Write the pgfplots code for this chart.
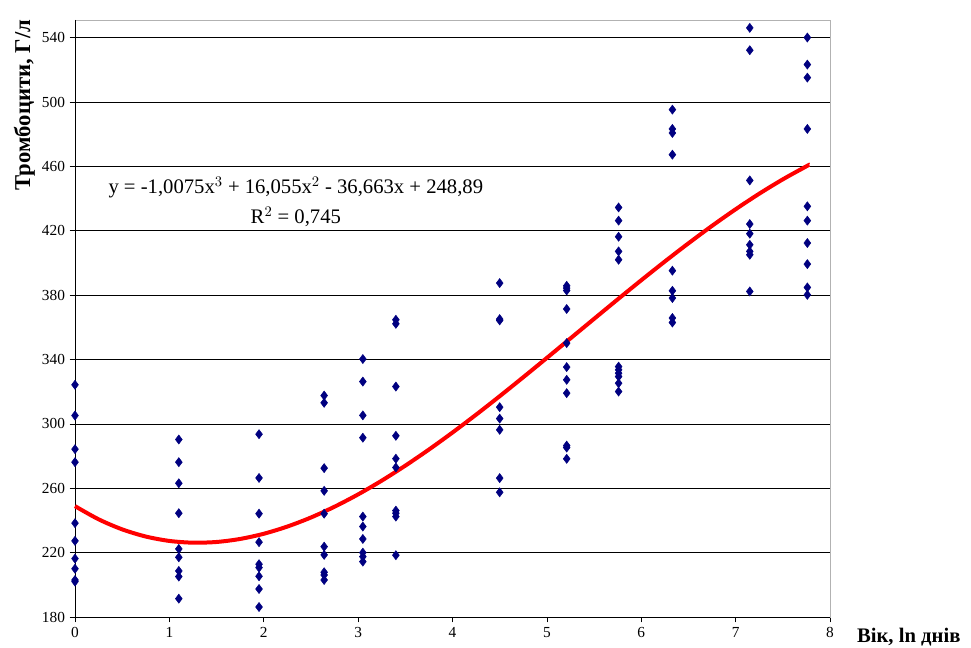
\documentclass[border=0pt]{standalone}
\usepackage{pgfplots}
\pgfplotsset{compat=1.18}
\usepackage{fontspec}
\setmainfont{Liberation Serif}
\definecolor{navy}{RGB}{0,0,128}
\begin{document}
\begin{tikzpicture}
\path[use as bounding box] (-56.25pt,-23.25pt) rectangle (672pt,462.75pt);
\begin{axis}[
  at={(0,0)}, anchor=origin,
  width=566.25pt, height=447.75pt, scale only axis,
  xmin=0, xmax=8, ymin=180, ymax=551,
  xtick={0,1,...,8}, ytick={180,220,...,540},
  ymajorgrids, grid style={black, line width=0.5pt},
  axis line style={draw=gray!60, line width=0.6pt},
  tick pos=left, tick align=outside, major tick length=4pt,
  tick style={black, line width=0.5pt},
  tick label style={font=\fontsize{11.5}{13}\selectfont},
  /pgf/number format/assume math mode=true,
  /pgf/number format/1000 sep={},
  clip=false,
]
\draw[black, line width=0.7pt] (rel axis cs:0,1) -- (rel axis cs:0,0) -- (rel axis cs:1,0);
\addplot[only marks, mark=diamond*, mark size=3.4pt, color=navy] coordinates {
(0,324.3) (0,305.2) (0,284.3) (0,276.2) (0,238.3) (0,227.3) (0,216.3) (0,210.0) (0,203.0) (0,202.0)
(1.10,290.3) (1.10,276.2) (1.10,263.1) (1.10,244.5) (1.10,222.3) (1.10,217.1) (1.10,208.6) (1.10,205.1) (1.10,191.4)
(1.95,293.6) (1.95,266.4) (1.95,244.2) (1.95,226.5) (1.95,212.8) (1.95,210.7) (1.95,205.3) (1.95,197.4) (1.95,186.2)
(2.64,317.6) (2.64,313.1) (2.64,272.5) (2.64,258.4) (2.64,244.2) (2.64,223.7) (2.64,218.6) (2.64,207.8) (2.64,206.1) (2.64,203.0)
(3.05,340.3) (3.05,326.3) (3.05,305.3) (3.05,291.4) (3.05,242.4) (3.05,236.2) (3.05,228.5) (3.05,220.0) (3.05,217.5) (3.05,214.4)
(3.40,364.7) (3.40,362.2) (3.40,323.2) (3.40,292.6) (3.40,278.4) (3.40,272.9) (3.40,246.1) (3.40,244.5) (3.40,242.4) (3.40,218.4)
(4.50,387.5) (4.50,365.1) (4.50,364.3) (4.50,310.4) (4.50,303.3) (4.50,296.3) (4.50,266.3) (4.50,257.5)
(5.21,385.8) (5.21,384.4) (5.21,382.9) (5.21,371.4) (5.21,350.2) (5.21,335.3) (5.21,327.4) (5.21,319.1) (5.21,286.5) (5.21,285.3) (5.21,278.3)
(5.76,434.5) (5.76,426.3) (5.76,416.3) (5.76,407.2) (5.76,402.0) (5.76,335.6) (5.76,333.6) (5.76,331.5) (5.76,329.4) (5.76,325.3) (5.76,320.1)
(6.33,495.3) (6.33,483.3) (6.33,480.8) (6.33,467.3) (6.33,395.2) (6.33,382.7) (6.33,378.2) (6.33,365.8) (6.33,363.0)
(7.15,546.1) (7.15,532.2) (7.15,451.3) (7.15,424.2) (7.15,418.2) (7.15,411.3) (7.15,407.2) (7.15,405.1) (7.15,382.3)
(7.76,540.1) (7.76,523.3) (7.76,515.2) (7.76,483.3) (7.76,435.2) (7.76,426.3) (7.76,412.4) (7.76,399.3) (7.76,384.8) (7.76,380.2)
};
\addplot[red, line width=3pt, smooth] coordinates {
(0,248.89) (0.25,240.71) (0.5,234.45) (0.75,230.00) (1,227.27) (1.25,226.18) (1.5,226.62) (1.75,228.50)
(2,231.72) (2.25,236.20) (2.5,241.83) (2.75,248.53) (3,256.19) (3.25,264.73) (3.5,274.05) (3.75,284.05)
(4,294.64) (4.25,305.72) (4.5,317.21) (4.75,329.01) (5,341.01) (5.25,353.14) (5.5,365.28) (5.75,377.36)
(6,389.27) (6.25,400.92) (6.5,412.22) (6.75,423.07) (7,433.37) (7.25,443.04) (7.5,451.97) (7.75,460.08) (7.78,461.0)
};
\node[align=center, font=\fontsize{15.5}{22.5}\selectfont] at (axis cs:2.34,438) {y = -1,0075x$^{3}$ + 16,055x$^{2}$ - 36,663x + 248,89\\R$^{2}$ = 0,745};
\end{axis}
\node[anchor=base west, font=\fontsize{15.5}{18}\selectfont\bfseries] at (583pt,-19.5pt) {Вік, ln днів};
\node[rotate=90, font=\fontsize{17}{20}\selectfont\bfseries] at (-38pt,384pt) {Тромбоцити, Г/л};
\end{tikzpicture}
\end{document}
